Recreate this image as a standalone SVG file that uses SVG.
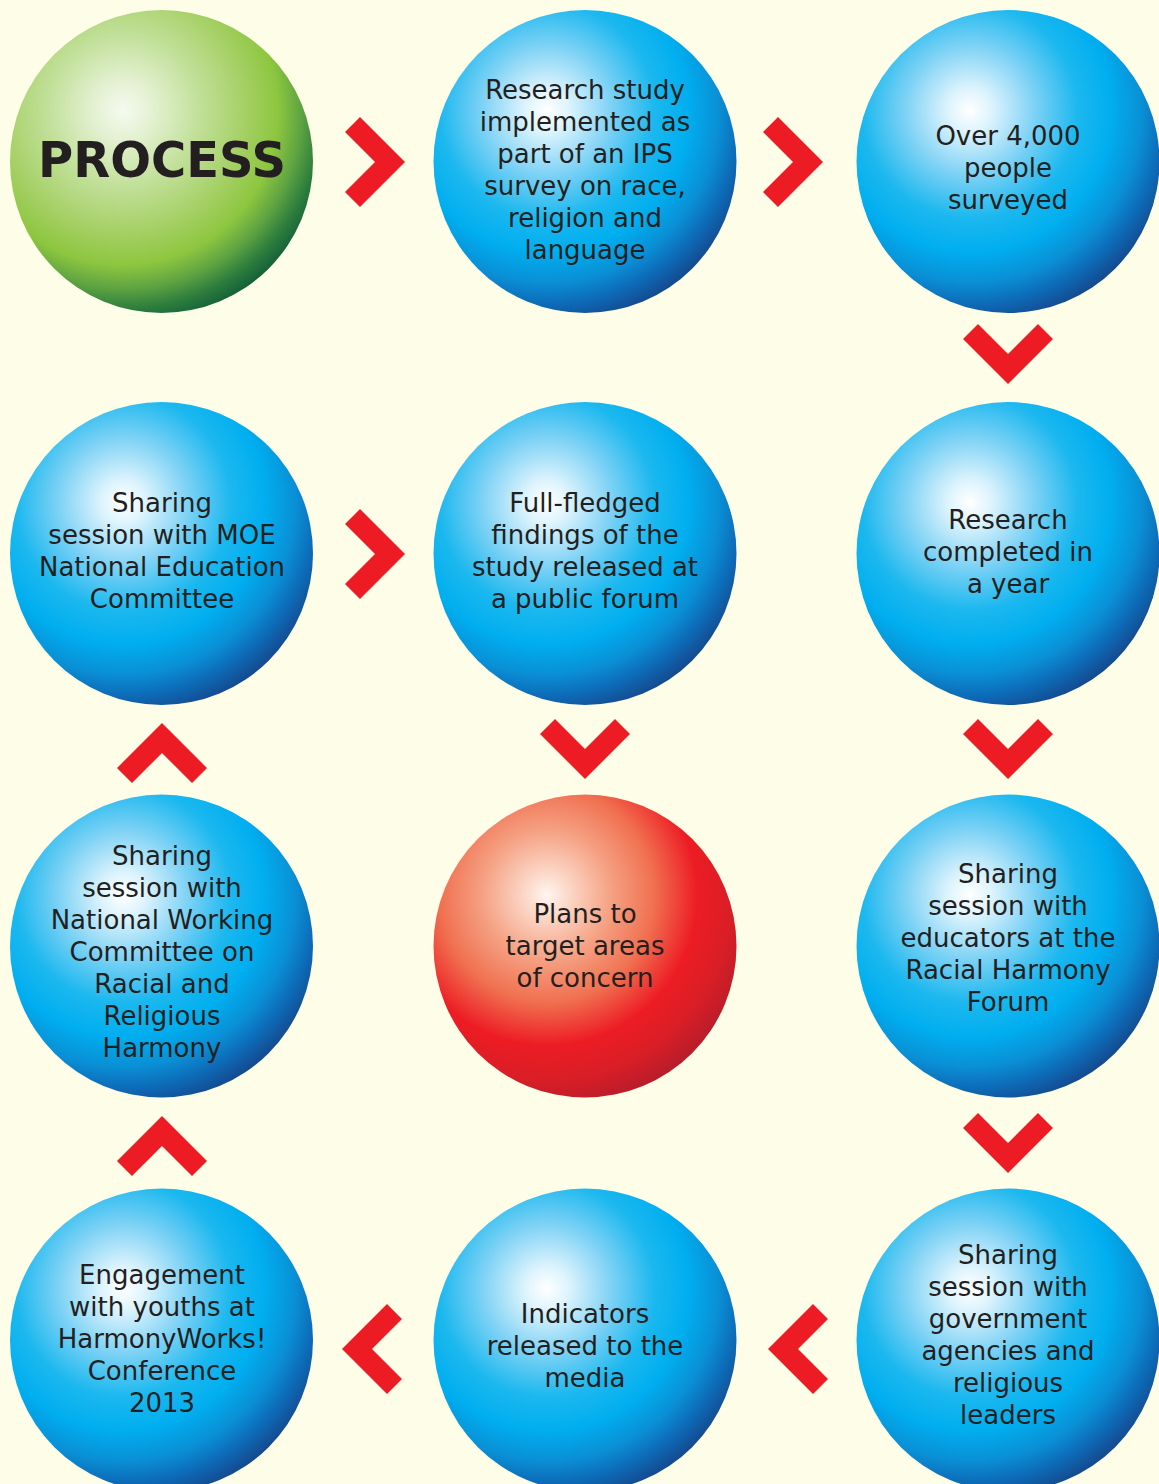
<svg xmlns="http://www.w3.org/2000/svg" xmlns:xlink="http://www.w3.org/1999/xlink" width="1159" height="1484" viewBox="0 0 1159 1484">
<style>
.t{font-family:"DejaVu Sans","Liberation Sans",sans-serif;font-size:26px;fill:#231f20;text-anchor:middle}
.h{font-family:"DejaVu Sans","Liberation Sans",sans-serif;font-size:50px;font-weight:bold;fill:#231f20;text-anchor:middle}
.chev{fill:#ed1c24}
</style>
<defs>
<radialGradient id="gBlue" cx="0.374" cy="0.331" fx="0.374" fy="0.331" r="0.71">
<stop offset="0" stop-color="#ffffff"/>
<stop offset="0.1" stop-color="#def4fd"/>
<stop offset="0.3" stop-color="#7ed2f5"/>
<stop offset="0.5" stop-color="#1cb8ef"/>
<stop offset="0.66" stop-color="#00aeef"/>
<stop offset="0.8" stop-color="#0a8fd5"/>
<stop offset="0.9" stop-color="#0d6bb8"/>
<stop offset="1" stop-color="#144a8f"/>
</radialGradient>
<radialGradient id="gGreen" cx="0.374" cy="0.331" fx="0.374" fy="0.331" r="0.71">
<stop offset="0" stop-color="#f6faf0"/>
<stop offset="0.15" stop-color="#e2f0cf"/>
<stop offset="0.35" stop-color="#c2e09a"/>
<stop offset="0.58" stop-color="#a3cf62"/>
<stop offset="0.72" stop-color="#8dc63f"/>
<stop offset="0.83" stop-color="#5ea342"/>
<stop offset="0.92" stop-color="#2e7e3d"/>
<stop offset="1" stop-color="#156139"/>
</radialGradient>
<radialGradient id="gRed" cx="0.374" cy="0.331" fx="0.374" fy="0.331" r="0.71">
<stop offset="0" stop-color="#fff5f0"/>
<stop offset="0.12" stop-color="#fbd3c2"/>
<stop offset="0.3" stop-color="#f5a183"/>
<stop offset="0.5" stop-color="#f07050"/>
<stop offset="0.7" stop-color="#ed1c24"/>
<stop offset="0.86" stop-color="#d91e26"/>
<stop offset="1" stop-color="#b81c2b"/>
</radialGradient>
<polygon id="chev" points="-15,-45 30,0 -15,45 -30,30 0,0 -30,-30"/>
</defs>
<rect x="0" y="0" width="1159" height="1484" fill="#fefde8"/>

<g id="n-process">
<circle cx="161.5" cy="161.5" r="151.5" fill="url(#gGreen)"/>
<text class="h" x="162" y="177" textLength="248" lengthAdjust="spacingAndGlyphs">PROCESS</text>
</g>
<g id="n-research-study">
<circle cx="585" cy="161.5" r="151.5" fill="url(#gBlue)"/>
<text class="t" x="585" y="99">Research study</text>
<text class="t" x="585" y="131">implemented as</text>
<text class="t" x="585" y="163">part of an IPS</text>
<text class="t" x="585" y="195">survey on race,</text>
<text class="t" x="585" y="227">religion and</text>
<text class="t" x="585" y="259">language</text>
</g>
<g id="n-surveyed">
<circle cx="1008" cy="161.5" r="151.5" fill="url(#gBlue)"/>
<text class="t" x="1008" y="145">Over 4,000</text>
<text class="t" x="1008" y="177">people</text>
<text class="t" x="1008" y="209">surveyed</text>
</g>
<g id="n-moe">
<circle cx="161.5" cy="553.5" r="151.5" fill="url(#gBlue)"/>
<text class="t" x="162" y="512">Sharing</text>
<text class="t" x="162" y="544">session with MOE</text>
<text class="t" x="162" y="576">National Education</text>
<text class="t" x="162" y="608">Committee</text>
</g>
<g id="n-findings">
<circle cx="585" cy="553.5" r="151.5" fill="url(#gBlue)"/>
<text class="t" x="585" y="512">Full-fledged</text>
<text class="t" x="585" y="544">findings of the</text>
<text class="t" x="585" y="576">study released at</text>
<text class="t" x="585" y="608">a public forum</text>
</g>
<g id="n-completed">
<circle cx="1008" cy="553.5" r="151.5" fill="url(#gBlue)"/>
<text class="t" x="1008" y="529">Research</text>
<text class="t" x="1008" y="561">completed in</text>
<text class="t" x="1008" y="593">a year</text>
</g>
<g id="n-national-working">
<circle cx="161.5" cy="946" r="151.5" fill="url(#gBlue)"/>
<text class="t" x="162" y="865">Sharing</text>
<text class="t" x="162" y="897">session with</text>
<text class="t" x="162" y="929">National Working</text>
<text class="t" x="162" y="961">Committee on</text>
<text class="t" x="162" y="993">Racial and</text>
<text class="t" x="162" y="1025">Religious</text>
<text class="t" x="162" y="1057">Harmony</text>
</g>
<g id="n-plans">
<circle cx="585" cy="946" r="151.5" fill="url(#gRed)"/>
<text class="t" x="585" y="923">Plans to</text>
<text class="t" x="585" y="955">target areas</text>
<text class="t" x="585" y="987">of concern</text>
</g>
<g id="n-educators">
<circle cx="1008" cy="946" r="151.5" fill="url(#gBlue)"/>
<text class="t" x="1008" y="883">Sharing</text>
<text class="t" x="1008" y="915">session with</text>
<text class="t" x="1008" y="947">educators at the</text>
<text class="t" x="1008" y="979">Racial Harmony</text>
<text class="t" x="1008" y="1011">Forum</text>
</g>
<g id="n-youths">
<circle cx="161.5" cy="1340" r="151.5" fill="url(#gBlue)"/>
<text class="t" x="162" y="1284">Engagement</text>
<text class="t" x="162" y="1316">with youths at</text>
<text class="t" x="162" y="1348">HarmonyWorks!</text>
<text class="t" x="162" y="1380">Conference</text>
<text class="t" x="162" y="1412">2013</text>
</g>
<g id="n-indicators">
<circle cx="585" cy="1340" r="151.5" fill="url(#gBlue)"/>
<text class="t" x="585" y="1323">Indicators</text>
<text class="t" x="585" y="1355">released to the</text>
<text class="t" x="585" y="1387">media</text>
</g>
<g id="n-agencies">
<circle cx="1008" cy="1340" r="151.5" fill="url(#gBlue)"/>
<text class="t" x="1008" y="1264">Sharing</text>
<text class="t" x="1008" y="1296">session with</text>
<text class="t" x="1008" y="1328">government</text>
<text class="t" x="1008" y="1360">agencies and</text>
<text class="t" x="1008" y="1392">religious</text>
<text class="t" x="1008" y="1424">leaders</text>
</g>

<g id="connectors" class="chev">
<use xlink:href="#chev" transform="translate(375,162)"/>
<use xlink:href="#chev" transform="translate(793,162)"/>
<use xlink:href="#chev" transform="translate(1008,354) rotate(90)"/>
<use xlink:href="#chev" transform="translate(1008,749) rotate(90)"/>
<use xlink:href="#chev" transform="translate(1008,1143) rotate(90)"/>
<use xlink:href="#chev" transform="translate(798,1349) rotate(180)"/>
<use xlink:href="#chev" transform="translate(372,1349) rotate(180)"/>
<use xlink:href="#chev" transform="translate(162,1146) rotate(-90)"/>
<use xlink:href="#chev" transform="translate(162,753) rotate(-90)"/>
<use xlink:href="#chev" transform="translate(375,554)"/>
<use xlink:href="#chev" transform="translate(585,749) rotate(90)"/>
</g>
</svg>
